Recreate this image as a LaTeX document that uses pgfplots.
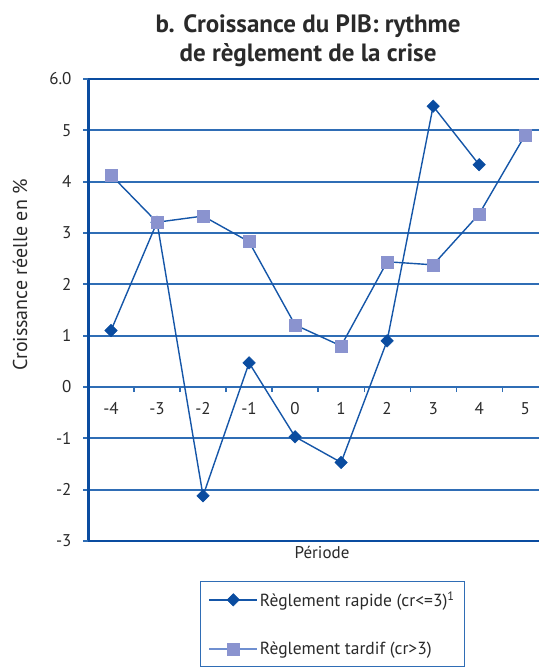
\documentclass[border=0pt]{standalone}
\usepackage{fontspec}
\setmainfont{PT Sans}
\usepackage{pgfplots}
\pgfplotsset{compat=1.18}
\definecolor{darkblue}{HTML}{0A4CA0}
\definecolor{gridblue}{HTML}{2F6DB5}
\definecolor{linblue}{HTML}{1556A8}
\definecolor{sqfill}{HTML}{8A93CF}
\definecolor{legline}{HTML}{6F8FD0}
\definecolor{txt}{HTML}{2A2A2A}
\begin{document}
\begin{tikzpicture}
\begin{axis}[
  at={(88pt,126pt)}, anchor=south west,
  scale only axis, width=451pt, height=462pt,
  xmin=-4.5, xmax=5.3, ymin=-3, ymax=6,
  axis x line=middle, axis y line=left,
  axis line style={-},
  x axis line style={draw=gridblue, line width=1.8pt},
  y axis line style={draw=darkblue, line width=3pt},
  hide obscured x ticks=false, hide obscured y ticks=false,
  xtick={-4,-3,-2,-1,0,1,2,3,4,5},
  xticklabels={-4,-3,-2,-1,0,1,2,3,4,5},
  x tick style={draw=none},
  ytick={-3,-2,-1,0,1,2,3,4,5,6},
  yticklabels={-3,-2,-1,0,1,2,3,4,5,6.0},
  y tick style={draw=gridblue, line width=1.8pt},
  tick align=outside, major tick length=5pt,
  ymajorgrids, grid style={gridblue, line width=1.8pt},
  extra x ticks={-3.5,-2.5,-1.5,-0.5,0.5,1.5,2.5,3.5,4.5},
  extra x tick labels={},
  extra x tick style={grid=none, x tick style={draw=gridblue, line width=1.2pt}},
  extra y ticks={-3,6},
  extra y tick labels={},
  extra y tick style={grid=major, grid style={darkblue, line width=2.6pt}},
  tick label style={font=\fontsize{17}{20}\selectfont, text=txt},
  xticklabel style={yshift=-7pt},
  yticklabel style={xshift=-8pt},
  legend style={at={(0.2483,-0.0866)}, anchor=north west, draw=gridblue, line width=1.2pt,
    inner xsep=8pt, inner ysep=8pt, row sep=30pt,
    font=\fontsize{17.5}{21}\selectfont, text=txt,
    /tikz/every even column/.append style={column sep=6pt}},
  legend cell align=left,
  legend image code/.code={\draw[mark repeat=2,mark phase=2,#1] plot coordinates {(0pt,0pt) (24pt,0pt) (48pt,0pt)};},
]
\addplot[linblue, line width=1.4pt, mark=square*, mark size=4.4pt,
  mark options={rotate=45, fill=darkblue, draw=darkblue, line width=0.5pt}]
  coordinates {(-4,1.10) (-3,3.21) (-2,-2.12) (-1,0.47) (0,-0.97) (1,-1.47) (2,0.90) (3,5.47) (4,4.33)};
\addlegendentry{Règlement rapide (cr<=3)\textsuperscript{1}}
\addplot[linblue, line width=1.4pt, mark=square*, mark size=6pt,
  mark options={fill=sqfill, draw=sqfill, line width=0.5pt},
  legend image post style={color=legline}]
  coordinates {(-4,4.13) (-3,3.21) (-2,3.33) (-1,2.83) (0,1.21) (1,0.80) (2,2.44) (3,2.38) (4,3.37) (5,4.91)};
\addlegendentry{Règlement tardif (cr>3)}
\end{axis}
\node[font=\bfseries\fontsize{25}{29}\selectfont, text=txt, align=center] at (308pt,626pt)
  {b. Croissance du PIB: rythme\\de règlement de la crise};
\node[rotate=90, font=\fontsize{20}{24}\selectfont, text=txt] at (20pt,392pt) {Croissance réelle en \%};
\node[font=\fontsize{17}{20}\selectfont, text=txt] at (322pt,115pt) {Période};
\pgfresetboundingbox
\path[use as bounding box] (0,0) rectangle (539pt,667pt);
\end{tikzpicture}
\end{document}
